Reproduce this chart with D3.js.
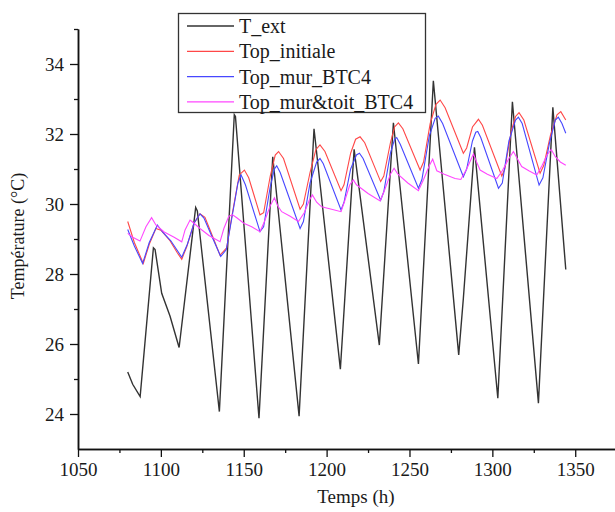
<!DOCTYPE html>
<html>
<head>
<meta charset="utf-8">
<script src="https://cdn.jsdelivr.net/npm/d3@7"></script>
<style>
  body { margin: 0; background: white; }
  text { font-family: "Liberation Serif", "Times New Roman", serif; fill: #1a1a1a; }
</style>
</head>
<body>
<script>
const w = 615;
const h = 512;

// [temps (h), température (°C)]
const tExt = [
  [1080, 25.2], [1083, 24.85], [1087.5, 24.5], [1095.5, 28.75], [1096.5, 28.7],
  [1100.5, 27.45], [1105.5, 26.8], [1111, 25.9], [1121, 29.9], [1122, 29.8],
  [1135.3, 24.07], [1144.3, 32.55], [1145, 32.5], [1159.2, 23.88], [1167.5, 31.35],
  [1183.4, 23.94], [1192.4, 32.15], [1208.3, 25.28], [1216.6, 31.56], [1231.8, 25.97],
  [1240.3, 32.32], [1255.4, 25.43], [1264.4, 33.52], [1279.7, 25.69], [1282.5, 27.3],
  [1289.2, 31.62], [1303.3, 24.45], [1312.1, 32.92], [1327.8, 24.31], [1336.5, 32.76],
  [1344.3, 28.13]
];

const topInitiale = [
  [1080, 29.5], [1084, 28.9], [1089.4, 28.3], [1093, 28.85], [1097, 29.3], [1100, 29.25],
  [1105.5, 28.95], [1110, 28.6], [1112.6, 28.42], [1115.6, 28.78], [1120, 29.45], [1123.6, 29.72],
  [1126.6, 29.62], [1131, 29.1], [1135.7, 28.54], [1139.7, 28.75], [1143, 29.7], [1147.3, 30.83],
  [1150.4, 30.97], [1153, 30.75], [1159.8, 29.69], [1162, 29.75], [1166, 30.8], [1169, 31.4],
  [1171, 31.5], [1174, 31.3], [1184, 29.85], [1186, 30.0], [1190, 30.9], [1193.5, 31.55],
  [1196, 31.69], [1199, 31.5], [1208.7, 30.38], [1210.5, 30.55], [1214.5, 31.45], [1217.5, 31.85],
  [1220.2, 31.92], [1223, 31.75], [1232.6, 30.64], [1234.5, 30.8], [1238.5, 31.75], [1241, 32.2],
  [1243.3, 32.32], [1246, 32.15], [1256.4, 30.97], [1258.5, 31.2], [1262.5, 32.3], [1266, 32.85],
  [1268.5, 32.97], [1271.5, 32.75], [1282.5, 31.45], [1284.5, 31.6], [1288, 32.2], [1291.6, 32.42],
  [1294, 32.25], [1305.7, 30.8], [1307.5, 31.0], [1311.5, 32.1], [1314, 32.5], [1316.1, 32.61],
  [1319, 32.4], [1328.8, 30.88], [1331, 31.1], [1335, 31.95], [1339, 32.55], [1341.3, 32.64],
  [1344.3, 32.4]
];

const topMurBTC4 = [
  [1080, 29.27], [1084, 28.8], [1089, 28.3], [1093, 28.9], [1097.9, 29.4], [1101, 29.2],
  [1106, 28.95], [1112.6, 28.48], [1116, 28.85], [1120, 29.45], [1123.6, 29.72], [1126, 29.6],
  [1131, 29.05], [1136.1, 28.5], [1139.5, 28.7], [1143, 29.65], [1146.5, 30.6], [1148.4, 30.83],
  [1151, 30.55], [1159.8, 29.21], [1162, 29.35], [1166, 30.5], [1168.5, 31.0], [1169.9, 31.09],
  [1172, 30.9], [1184, 29.3], [1186, 29.5], [1190, 30.6], [1194, 31.2], [1196, 31.3],
  [1198, 31.15], [1208.7, 29.83], [1210.5, 30.05], [1214.5, 31.0], [1218, 31.4], [1219.8, 31.45],
  [1222, 31.3], [1232.6, 30.11], [1234.5, 30.35], [1238.5, 31.45], [1241, 31.85], [1242.3, 31.9],
  [1244.5, 31.7], [1255.4, 30.45], [1257.5, 30.7], [1262, 31.95], [1265.5, 32.45], [1267.4, 32.51],
  [1270, 32.3], [1282.5, 30.78], [1284.5, 31.0], [1288, 31.8], [1290, 32.05], [1291.2, 32.07],
  [1293, 31.9], [1303.7, 30.45], [1306, 30.6], [1310, 31.8], [1314, 32.4], [1315.7, 32.48],
  [1318, 32.3], [1328.2, 30.54], [1330.5, 30.75], [1334.5, 31.75], [1338, 32.4], [1339.8, 32.48],
  [1342, 32.3], [1344.3, 32.02]
];

const topMurToitBTC4 = [
  [1080, 29.16], [1083, 29.05], [1087.4, 28.94], [1091, 29.35], [1094.4, 29.61], [1097, 29.4],
  [1102, 29.2], [1108, 29.05], [1112.6, 28.92], [1114.6, 29.26], [1117.6, 29.54], [1120, 29.45],
  [1123.6, 29.3], [1129, 29.1], [1135.7, 28.92], [1138, 29.3], [1141, 29.65], [1143.3, 29.69],
  [1146, 29.6], [1150, 29.45], [1154.8, 29.35], [1159.8, 29.21], [1162.5, 29.5], [1166, 29.95],
  [1168.5, 30.18], [1170.5, 29.95], [1172.9, 29.78], [1178, 29.65], [1183, 29.5], [1186.5, 29.75],
  [1189.5, 30.1], [1191.4, 30.26], [1194, 30.05], [1197, 29.92], [1203, 29.85], [1208.7, 29.78],
  [1211, 30.1], [1214, 30.55], [1216.1, 30.69], [1218, 30.55], [1225, 30.3], [1232.3, 30.09],
  [1235, 30.4], [1238.5, 30.85], [1240.7, 31.02], [1243, 30.85], [1249, 30.6], [1255.4, 30.38],
  [1258.5, 30.7], [1262, 31.1], [1264, 31.28], [1266.5, 30.95], [1271, 30.85], [1277.5, 30.73],
  [1281, 30.7], [1284.5, 31.0], [1288.6, 31.43], [1290.5, 31.2], [1292.6, 30.97], [1297, 30.85],
  [1302.7, 30.73], [1306, 30.95], [1310, 31.3], [1312.7, 31.5], [1315, 31.3], [1317.7, 31.07],
  [1322, 30.95], [1326.8, 30.83], [1330, 31.1], [1333, 31.4], [1335.5, 31.56], [1338, 31.35],
  [1341, 31.2], [1344.3, 31.11]
];

const seriesNames = ["T_ext", "Top_initiale", "Top_mur_BTC4", "Top_mur&toit_BTC4"];
const seriesColors = ["#333333", "#ff4747", "#4747ff", "#ff47ff"];
const seriesData = [tExt, topInitiale, topMurBTC4, topMurToitBTC4];

const xTicks = [1050, 1100, 1150, 1200, 1250, 1300, 1350];
const xMinorTicks = [1075, 1125, 1175, 1225, 1275, 1325];
const yTicks = [24, 26, 28, 30, 32, 34];
const yMinorTicks = [25, 27, 29, 31, 33, 35];

const svg = d3.select("body")
  .append("svg")
  .attr("width", w)
  .attr("height", h);

const xScale = d3.scaleLinear()
  .domain([1050, 1374])
  .range([78, 615]);

const yScale = d3.scaleLinear()
  .domain([23, 35])
  .range([449, 29]);

// axes
const xAxis = d3.axisBottom(xScale).tickValues(xTicks).tickSize(8).tickSizeOuter(0).tickPadding(6).tickFormat(d3.format("d"));
const xMinor = d3.axisBottom(xScale).tickValues(xMinorTicks).tickSize(4).tickSizeOuter(0).tickFormat("");
const yAxis = d3.axisLeft(yScale).tickValues(yTicks).tickSize(8).tickSizeOuter(0).tickPadding(6).tickFormat(d3.format("d"));
const yMinor = d3.axisLeft(yScale).tickValues(yMinorTicks).tickSize(4).tickSizeOuter(0).tickFormat("");

svg.append("g").attr("transform", "translate(0," + yScale(23) + ")").call(xAxis);
svg.append("g").attr("transform", "translate(0," + yScale(23) + ")").call(xMinor);
svg.append("g").attr("transform", "translate(" + xScale(1050) + ",0)").call(yAxis);
svg.append("g").attr("transform", "translate(" + xScale(1050) + ",0)").call(yMinor);

svg.selectAll("g").attr("font-family", "Liberation Serif, serif");
svg.selectAll(".domain").attr("stroke", "#111").attr("stroke-width", 1.5);
svg.selectAll(".tick line").attr("stroke", "#111").attr("stroke-width", 1.3);
svg.selectAll(".tick text")
  .style("font-family", "'Liberation Serif', serif")
  .style("font-size", "19px")
  .attr("fill", "#1a1a1a");

// axis titles
svg.append("text")
  .attr("x", 356)
  .attr("y", 503)
  .attr("text-anchor", "middle")
  .style("font-size", "19px")
  .text("Temps (h)");

svg.append("text")
  .attr("transform", "translate(24,236) rotate(-90)")
  .attr("text-anchor", "middle")
  .style("font-size", "18px")
  .text("Température (°C)");

// lines
const line = d3.line()
  .x(d => xScale(d[0]))
  .y(d => yScale(d[1]));

svg.selectAll(".serie")
  .data(seriesData)
  .enter()
  .append("path")
  .attr("class", "serie")
  .attr("d", line)
  .attr("fill", "none")
  .attr("stroke", (d, i) => seriesColors[i])
  .attr("stroke-width", (d, i) => i == 0 ? 1.4 : 1.1);

// legend
const legend = svg.append("g").attr("transform", "translate(178,13)");

legend.append("rect")
  .attr("x", 0.5)
  .attr("y", 0.5)
  .attr("width", 247)
  .attr("height", 99)
  .attr("fill", "white")
  .attr("stroke", "#333")
  .attr("stroke-width", 1.3);

const items = legend.selectAll(".item")
  .data(seriesNames)
  .enter()
  .append("g")
  .attr("class", "item")
  .attr("transform", (d, i) => "translate(0," + (13 + i * 25.3) + ")");

items.append("line")
  .attr("x1", 9)
  .attr("x2", 56)
  .attr("stroke", (d, i) => seriesColors[i])
  .attr("stroke-width", 1.3);

items.append("text")
  .attr("x", 61)
  .attr("y", 7)
  .style("font-size", "20px")
  .text(d => d);
</script>
</body>
</html>
